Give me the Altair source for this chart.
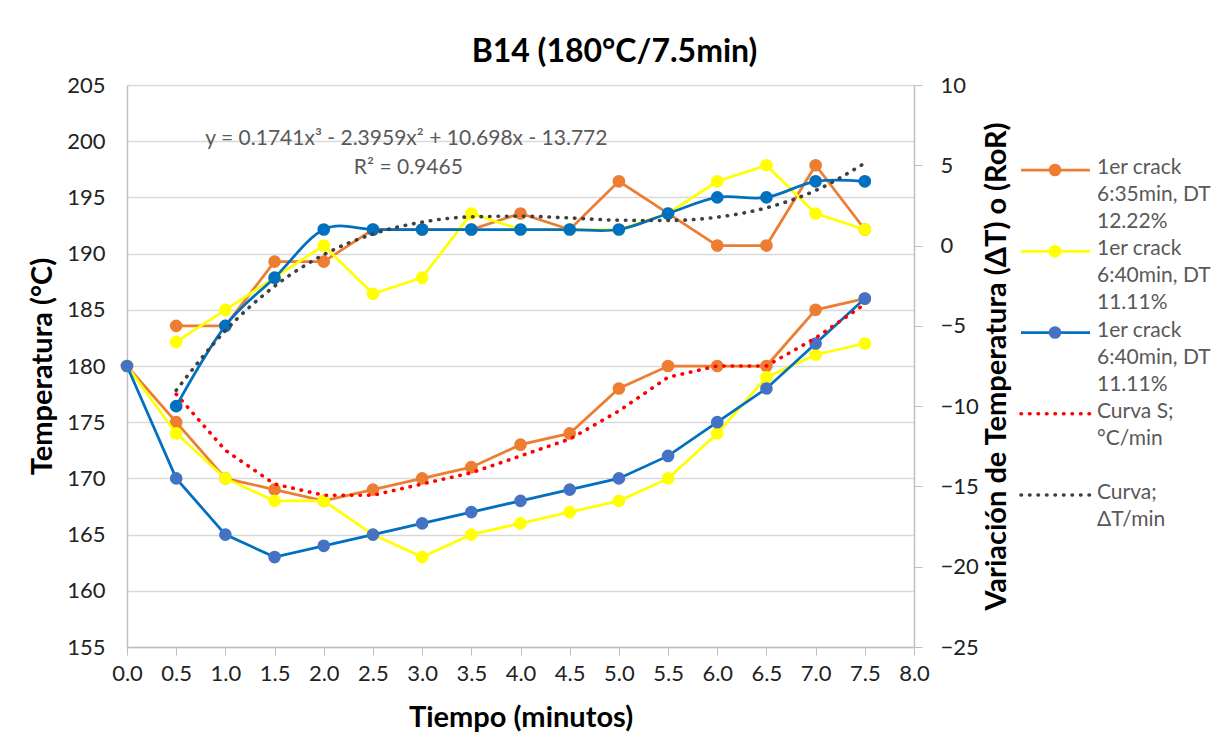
import altair as alt
import pandas as pd

FONT = "Lato"
W, H = 787, 562

# ---- data ----
t_all = [0.0, 0.5, 1.0, 1.5, 2.0, 2.5, 3.0, 3.5, 4.0, 4.5, 5.0, 5.5, 6.0, 6.5, 7.0, 7.5]
temp_orange = [180, 175, 170, 169, 168, 169, 170, 171, 173, 174, 178, 180, 180, 180, 185, 186]
temp_yellow = [180, 174, 170, 168, 168, 165, 163, 165, 166, 167, 168, 170, 174, 179, 181, 182]
temp_blue = [180, 170, 165, 163, 164, 165, 166, 167, 168, 169, 170, 172, 175, 178, 182, 186]

t_ror = [0.5, 1.0, 1.5, 2.0, 2.5, 3.0, 3.5, 4.0, 4.5, 5.0, 5.5, 6.0, 6.5, 7.0, 7.5]
ror_orange = [-5, -5, -1, -1, 1, 1, 1, 2, 1, 4, 2, 0, 0, 5, 1]
ror_yellow = [-6, -4, -2, 0, -3, -2, 2, 1, 1, 1, 2, 4, 5, 2, 1]
ror_blue = [-10, -5, -2, 1, 1, 1, 1, 1, 1, 1, 2, 3, 3, 4, 4]

curva_s = [177.5, 172.5, 169.5, 168.5, 168.5, 169.5, 170.5, 172.0, 173.5, 176.0, 179.0, 180.0, 180.0, 182.5, 185.5]
curva_dt = [-9.02, -5.30, -2.53, -0.57, 0.72, 1.46, 1.79, 1.83, 1.72, 1.58, 1.56, 1.77, 2.35, 3.43, 5.14]

x_ticks = [0.0, 0.5, 1.0, 1.5, 2.0, 2.5, 3.0, 3.5, 4.0, 4.5, 5.0, 5.5, 6.0, 6.5, 7.0, 7.5, 8.0]
yl_ticks = [155, 160, 165, 170, 175, 180, 185, 190, 195, 200, 205]
yr_ticks = [-25, -20, -15, -10, -5, 0, 5, 10]

eq_text = ["y = 0.1741x³ - 2.3959x² + 10.698x - 13.772", "R² = 0.9465"]
eq_t = [2.84, 2.86]
eq_v = [200.2, 197.6]

legend_keys = ["a", "b", "c", "d", "e"]
legend_labels = [
    "1er crack\n6:35min, DT\n12.22%",
    "1er crack\n6:40min, DT\n11.11%",
    "1er crack\n6:40min, DT\n11.11%",
    "Curva S;\n°C/min",
    "Curva;\nΔT/min",
]

ORANGE = "#ED7D31"
YELLOW = "#FFFF00"
BLUE_LINE = "#0070C0"
BLUE_PT = "#4472C4"
RED = "#FF0000"
DARK = "#404040"
AXIS_C = "#BFBFBF"
GRID_C = "#D9D9D9"
TXT = "#595959"
MSIZE = 160

X = alt.X(
    "t:Q",
    scale=alt.Scale(domain=[0, 8], nice=False, zero=False),
    axis=alt.Axis(
        values=x_ticks, format=".1f", title="Tiempo (minutos)", grid=False,
        ticks=True, tickSize=8, tickColor=AXIS_C, domainColor=AXIS_C, domainWidth=1.5,
        labelPadding=8, labelFontSize=22, titleFontSize=29, titleFontWeight="bold",
        labelFlush=False, labelOverlap=False, labelBound=False,
        titleBaseline="middle", titleY=70, labelColor="#222222", titleColor="#000000",
    ),
)


def y_left():
    return alt.Y(
        "v:Q",
        scale=alt.Scale(domain=[155, 205], nice=False, zero=False),
        axis=alt.Axis(
            orient="left", values=yl_ticks, title="Temperatura (°C)", grid=True,
            gridColor=GRID_C, gridWidth=1.5, ticks=False, domainColor=AXIS_C, domainWidth=1.5,
            labelPadding=22, labelFontSize=22, titleFontSize=29, titleFontWeight="bold",
            titleBaseline="middle", titleX=-85, titleY=H / 2, titleAngle=270,
            labelOverlap=False, labelFlush=False,
            labelColor="#222222", titleColor="#000000",
        ),
    )


def y_right():
    return alt.Y(
        "v:Q",
        scale=alt.Scale(domain=[-25, 10], nice=False, zero=False),
        axis=alt.Axis(
            orient="right", values=yr_ticks, title="Variación de Temperatura (ΔT) o (RoR)",
            grid=False, ticks=True, tickSize=8, tickColor=AXIS_C, domainColor=AXIS_C,
            domainWidth=1.5, labelPadding=18, labelFontSize=22, titleFontSize=29,
            titleFontWeight="bold", titleBaseline="middle", titleX=82, titleY=H / 2,
            titleAngle=270, labelOverlap=False, labelFlush=False,
            labelColor="#222222", titleColor="#000000",
        ),
    )


def series(tv, vals, yfn, line_color, pt_color, interp="linear"):
    df = pd.DataFrame({"t": tv, "v": vals})
    base = alt.Chart(df).encode(x=X, y=yfn())
    line = base.mark_line(color=line_color, strokeWidth=2.75, interpolate=interp)
    pts = base.mark_point(filled=True, size=MSIZE, color=pt_color, opacity=1, strokeWidth=0)
    return [line, pts]


def dotted(tv, vals, yfn, color, interp="linear"):
    df = pd.DataFrame({"t": tv, "v": vals})
    return alt.Chart(df).mark_line(
        color=color, strokeWidth=3.6, strokeDash=[0.5, 8], strokeCap="round", interpolate=interp
    ).encode(x=X, y=yfn())


eq_df = pd.DataFrame({"t": eq_t, "v": eq_v, "txt": eq_text})
eq_layer = alt.Chart(eq_df).mark_text(
    font=FONT, fontSize=21, color=TXT, align="center", baseline="middle"
).encode(x=X, y=y_left(), text="txt:N")

left = alt.layer(
    *series(t_all, temp_orange, y_left, ORANGE, ORANGE),
    *series(t_all, temp_yellow, y_left, YELLOW, YELLOW),
    *series(t_all, temp_blue, y_left, BLUE_LINE, BLUE_PT),
    dotted(t_ror, curva_s, y_left, RED),
    eq_layer,
)

right = alt.layer(
    *series(t_ror, ror_orange, y_right, ORANGE, ORANGE),
    *series(t_ror, ror_yellow, y_right, YELLOW, YELLOW),
    *series(t_ror, ror_blue, y_right, BLUE_LINE, BLUE_LINE, interp="cardinal"),
    dotted(t_ror, curva_dt, y_right, DARK, interp="monotone"),
)

main = alt.layer(left, right).resolve_scale(y="independent").properties(width=W, height=H)

# ---- legend panel ----
leg_df = pd.DataFrame({"key": legend_keys, "label": legend_labels})
LY = alt.Y(
    "key:N",
    scale=alt.Scale(type="point", domain=legend_keys, range=[85, 410], padding=0),
    axis=None,
)
line_scale = alt.Scale(domain=legend_keys, range=[ORANGE, YELLOW, BLUE_LINE, RED, DARK])
pt_scale = alt.Scale(domain=legend_keys[:3], range=[ORANGE, YELLOW, BLUE_PT])

leg_base = alt.Chart(leg_df)
leg_solid = leg_base.transform_filter(
    alt.FieldOneOfPredicate(field="key", oneOf=legend_keys[:3])
).mark_rule(strokeWidth=2.75).encode(
    x=alt.value(6), x2=alt.value(75), y=LY,
    color=alt.Color("key:N", scale=line_scale, legend=None),
)
leg_dot = leg_base.transform_filter(
    alt.FieldOneOfPredicate(field="key", oneOf=legend_keys[3:])
).mark_rule(strokeWidth=3.6, strokeDash=[0.5, 8], strokeCap="round").encode(
    x=alt.value(6), x2=alt.value(75), y=LY,
    color=alt.Color("key:N", scale=line_scale, legend=None),
)
leg_pts = leg_base.transform_filter(
    alt.FieldOneOfPredicate(field="key", oneOf=legend_keys[:3])
).mark_point(filled=True, size=MSIZE, opacity=1, strokeWidth=0).encode(
    x=alt.value(40), y=LY,
    fill=alt.Fill("key:N", scale=pt_scale, legend=None),
)
leg_txt = leg_base.mark_text(
    font=FONT, fontSize=21, color=TXT, align="left", baseline="top",
    lineBreak="\n", lineHeight=27, dy=-13,
).encode(x=alt.value(82), y=LY, text="label:N")

legend = alt.layer(leg_solid, leg_dot, leg_pts, leg_txt).resolve_scale(
    color="independent", fill="independent"
).properties(width=200, height=H)

chart = alt.hconcat(main, legend, spacing=4).properties(
    title=alt.TitleParams(
        "B14 (180°C/7.5min)", font=FONT, fontSize=32, fontWeight="bold",
        color="#000000", anchor="middle", offset=5, dx=-7,
    ),
    padding={"left": 28, "top": 36, "right": 0, "bottom": 0},
    background="white",
).configure_view(stroke=None).configure_axis(
    labelFont=FONT, titleFont=FONT
).configure_text(font=FONT)

chart.save("out.html", embed_options={"renderer": "svg", "actions": False})
